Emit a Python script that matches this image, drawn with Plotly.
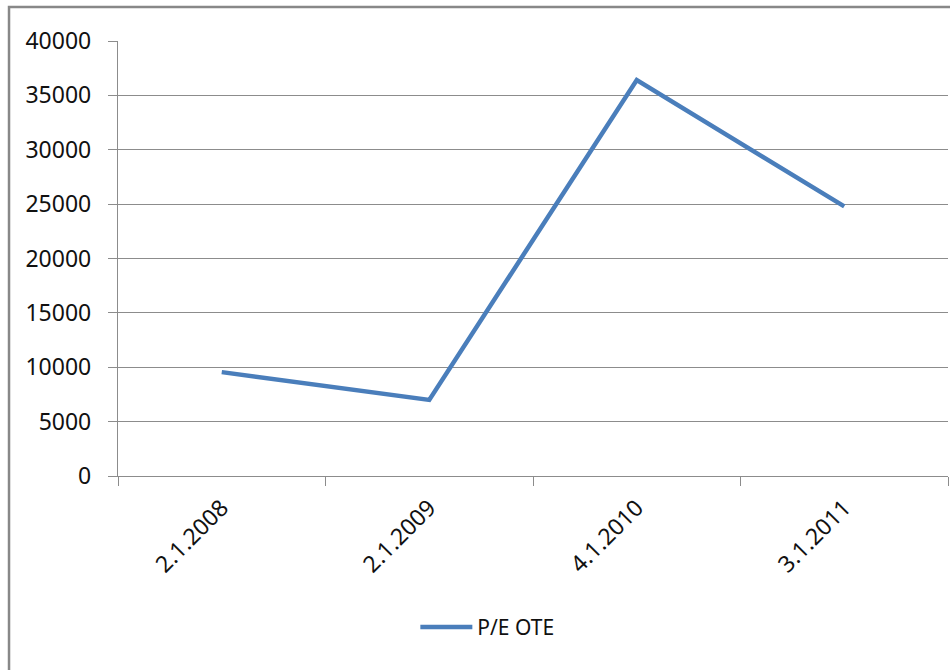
import plotly.graph_objects as go

dates = ["2.1.2008", "2.1.2009", "4.1.2010", "3.1.2011"]
pe_ote = [9550, 7000, 36400, 24800]
series_name = "P/E OTE"
y_ticks = [0, 5000, 10000, 15000, 20000, 25000, 30000, 35000, 40000]

FONT = "Noto Sans"
GRID = "#8c8c8c"

fig = go.Figure()
fig.add_trace(go.Scatter(
    x=dates, y=pe_ote, mode="lines", name=series_name,
    line=dict(color="#4a7ebb", width=4.5),
))

fig.update_layout(
    width=950, height=670,
    margin=dict(l=118, r=2, t=41, b=194),
    paper_bgcolor="white", plot_bgcolor="white",
    font=dict(family=FONT, size=23, color="#111111"),
    showlegend=True,
    legend=dict(orientation="h", x=0.445, xanchor="center", y=-0.348, yanchor="middle",
                font=dict(size=21), itemwidth=52),
    xaxis=dict(
        type="category", range=[-0.5, 3.5], tickson="boundaries",
        ticks="outside", ticklen=9, tickcolor=GRID, tickwidth=1,
        showline=True, linecolor=GRID, linewidth=1.3,
        showgrid=False, tickangle=-45, ticklabelstandoff=8,
        tickfont=dict(size=23),
    ),
    yaxis=dict(
        range=[0, 40000], tickvals=y_ticks, ticktext=[str(v) for v in y_ticks],
        ticks="outside", ticklen=9, tickcolor=GRID, tickwidth=1,
        showline=True, linecolor=GRID, linewidth=1.3,
        showgrid=True, gridcolor=GRID, gridwidth=1.3,
        ticklabelstandoff=12, zeroline=False,
        tickfont=dict(size=23),
    ),
    shapes=[dict(type="rect", xref="paper", yref="paper",
                 x0=-0.1313, x1=1.2, y0=-0.6, y1=1.078,
                 line=dict(color="#888888", width=2.5), fillcolor="rgba(0,0,0,0)", layer="below")],
)

fig.write_html("out.html", config={"displayModeBar": False},
               post_script="document.body.style.margin='0';document.body.style.overflow='hidden';")
